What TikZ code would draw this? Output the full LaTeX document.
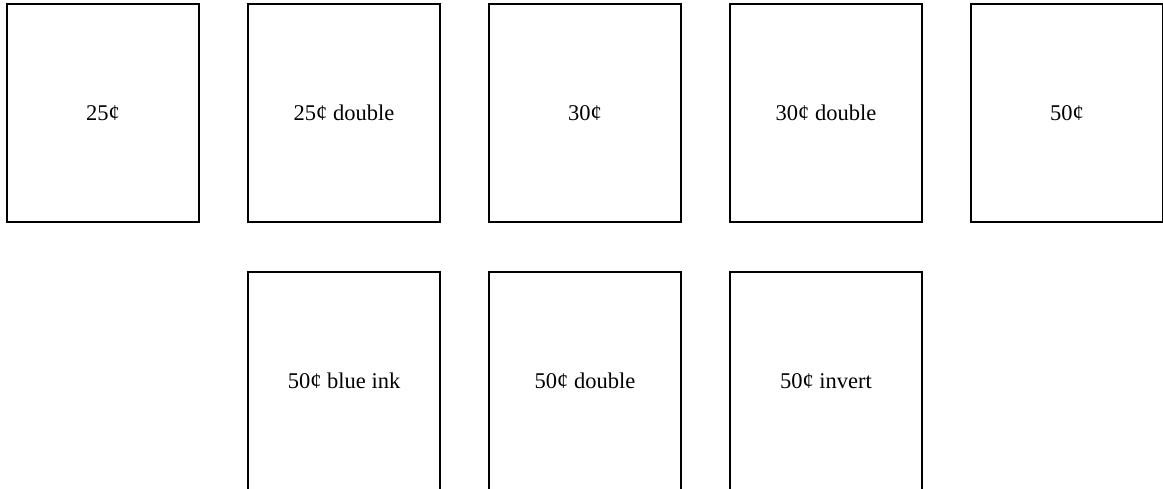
\documentclass[tikz,border=0pt]{standalone}
\usepackage{fontspec}
\setmainfont{Liberation Serif}
\usepackage{tikz}
\usetikzlibrary{positioning}

\begin{document}
\begin{tikzpicture}[
  x=1pt, y=1pt,
  node distance=48pt and 47pt,
  stamp/.style={draw,line width=2pt,minimum width=192pt,minimum height=218pt,
    inner sep=0pt,align=center,font=\fontsize{22.5}{27}\selectfont}
]
  \useasboundingbox (0,0) rectangle (1163,-489);
  \node[stamp] (c25) at (103,-113) {25¢};
  \node[stamp, right=of c25] (c25d) {25¢ double};
  \node[stamp, right=of c25d] (c30) {30¢};
  \node[stamp, right=of c30] (c30d) {30¢ double};
  \node[stamp, right=of c30d] (c50) {50¢};

  \node[stamp, below=of c25d] (c50b) {50¢ blue ink};
  \node[stamp, below=of c30] (c50d) {50¢ double};
  \node[stamp, below=of c30d] (c50i) {50¢ invert};
\end{tikzpicture}
\end{document}
